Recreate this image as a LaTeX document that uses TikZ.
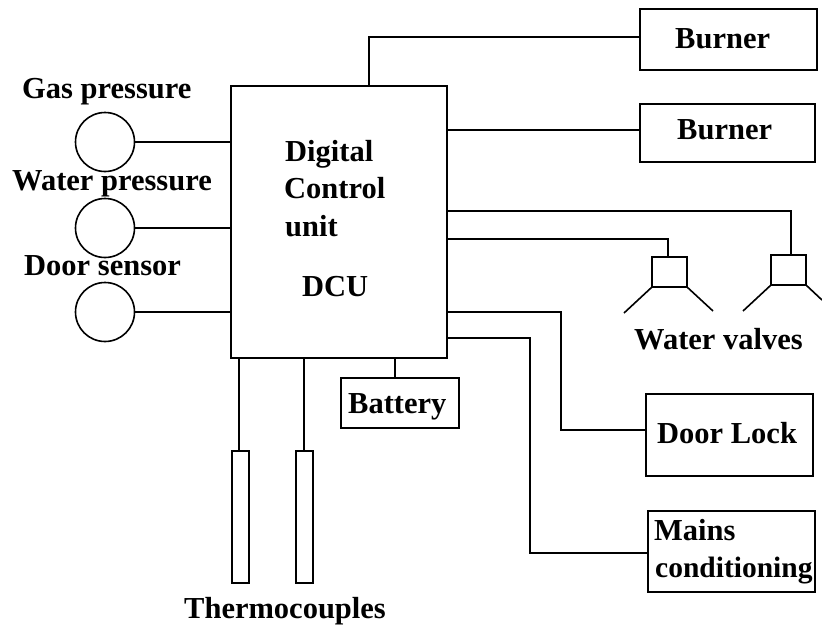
\documentclass[tikz,border=0pt]{standalone}
\usepackage{fontspec}
\setmainfont{Liberation Serif}
\tikzset{
    lbl/.style={inner sep=0pt,anchor=base west,font=\bfseries\fontsize{30.5}{36}\selectfont},
    unit/.style={draw,line width=1.6pt,inner sep=0pt,outer sep=0pt},
    sensor/.style={unit,circle,minimum size=59pt},
    probe/.style={unit,minimum width=17pt,minimum height=132pt},
    valve/.style={unit,minimum width=35pt,minimum height=30pt},
    wire/.style={line width=1.6pt}
}
\begin{document}
\begin{tikzpicture}[x=1pt,y=-1pt]
    \useasboundingbox (0,0) rectangle (822,625);
    \node[unit,minimum width=216pt,minimum height=272pt](dcu) at(339,222){};
    \node[unit,minimum width=177pt,minimum height=61pt](burnerA) at(728.5,39.5){};
    \node[unit,minimum width=175pt,minimum height=58pt](burnerB) at(727.5,133){};
    \node[unit,minimum width=118pt,minimum height=50pt](battery) at(400,403){};
    \node[unit,minimum width=167pt,minimum height=82pt](lock) at(729.5,435){};
    \node[unit,minimum width=167pt,minimum height=81pt](mains) at(731.5,551.5){};
    \node[sensor](gas) at(105,142){};
    \node[sensor](water) at(105,228){};
    \node[sensor](door) at(105,312){};
    \node[probe](tcA) at(240.5,517){};
    \node[probe](tcB) at(304.5,517){};
    \node[valve](valveA) at(669.5,272){};
    \node[valve](valveB) at(788.5,270){};
    \coordinate (legAl) at(624,313);
    \coordinate (legAr) at(713,311);
    \coordinate (legBl) at(743,311);
    \coordinate (legBr) at(822,300);
    \draw[wire] (valveA.south west) -- (legAl);
    \draw[wire] (valveA.south east) -- (legAr);
    \draw[wire] (valveB.south west) -- (legBl);
    \draw[wire] (valveB.south east) -- (legBr);
    \draw[wire] ([xshift=30pt]dcu.north) |- ([yshift=2.5pt]burnerA.west);
    \draw[wire] ([yshift=92pt]dcu.east) -- ([yshift=3pt]burnerB.west);
    \draw[wire] (gas.east) -- (gas.east -| dcu.west);
    \draw[wire] (water.east) -- (water.east -| dcu.west);
    \draw[wire] (door.east) -- (door.east -| dcu.west);
    \draw[wire] ([yshift=11pt]dcu.east) -| ([xshift=2.5pt]valveB.north);
    \draw[wire] ([yshift=-17pt]dcu.east) -| ([xshift=-1.5pt]valveA.north);
    \draw[wire] ([yshift=-90pt]dcu.east) -| ([xshift=-85pt,yshift=5pt]lock.west) -- ([yshift=5pt]lock.west);
    \draw[wire] ([yshift=-116pt]dcu.east) -| ([xshift=-118pt,yshift=-1.5pt]mains.west) -- ([yshift=-1.5pt]mains.west);
    \draw[wire] ([xshift=-5pt]battery.north) -- ([xshift=56pt]dcu.south);
    \draw[wire] ([xshift=-1.5pt]tcA.north) -- ([xshift=-100pt]dcu.south);
    \draw[wire] ([xshift=-.5pt]tcB.north) -- ([xshift=-35pt]dcu.south);
    \node[lbl](gaslbl) at(22,98){Gas pressure};
    \node[lbl](waterlbl) at(12,190){Water pressure};
    \node[lbl](doorlbl) at(24,275){Door sensor};
    \node[lbl](dculblA) at(285,161){Digital};
    \node[lbl](dculblB) at(284,198){Control};
    \node[lbl](dculblC) at(285,236){unit};
    \node[lbl](dculblD) at(302,296){DCU};
    \node[lbl](burnerAlbl) at(675,48){Burner};
    \node[lbl](burnerBlbl) at(677,139){Burner};
    \node[lbl](batterylbl) at(348,413){Battery};
    \node[lbl](valveslbl) at(634,349){Water valves};
    \node[lbl](locklbl) at(657,443){Door Lock};
    \node[lbl](mainslblA) at(654,540){Mains};
    \node[lbl,font=\bfseries\fontsize{29.5}{36}\selectfont](mainslblB) at(655,577){conditioning};
    \node[lbl](tclbl) at(184,618){Thermocouples};
\end{tikzpicture}
\end{document}
